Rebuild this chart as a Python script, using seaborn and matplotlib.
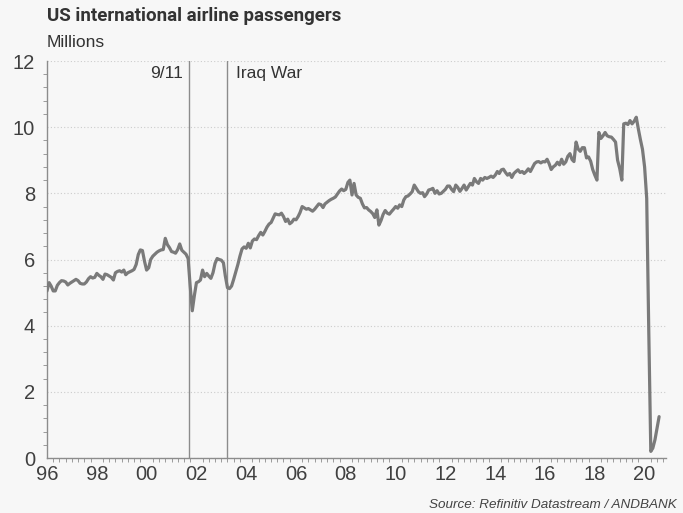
import matplotlib
matplotlib.use("Agg")
import matplotlib.pyplot as plt
import matplotlib.dates as mdates
from matplotlib.ticker import MultipleLocator
import seaborn as sns
import pandas as pd

# Monthly US international airline passengers, millions (Jan 1996 onward)
pax_1996 = [5.05, 5.30, 5.20, 5.05, 5.05, 5.22, 5.30, 5.36, 5.35, 5.32, 5.23, 5.28]
pax_1997 = [5.32, 5.36, 5.40, 5.36, 5.28, 5.26, 5.26, 5.32, 5.42, 5.48, 5.44, 5.46]
pax_1998 = [5.58, 5.52, 5.48, 5.40, 5.56, 5.54, 5.50, 5.46, 5.38, 5.60, 5.64, 5.66]
pax_1999 = [5.62, 5.68, 5.54, 5.60, 5.63, 5.66, 5.70, 5.85, 6.15, 6.29, 6.27, 5.95]
pax_2000 = [5.68, 5.75, 6.00, 6.10, 6.16, 6.22, 6.26, 6.29, 6.30, 6.64, 6.45, 6.36]
pax_2001 = [6.24, 6.22, 6.19, 6.30, 6.47, 6.28, 6.22, 6.16, 6.03, 5.20, 4.45, 4.90]
pax_2002 = [5.30, 5.33, 5.38, 5.68, 5.48, 5.58, 5.50, 5.43, 5.60, 5.88, 6.03, 6.00]
pax_2003 = [5.98, 5.90, 5.50, 5.15, 5.12, 5.20, 5.40, 5.62, 5.85, 6.10, 6.32, 6.38]
pax_2004 = [6.34, 6.49, 6.35, 6.56, 6.62, 6.60, 6.72, 6.82, 6.74, 6.85, 6.98, 7.07]
pax_2005 = [7.12, 7.26, 7.38, 7.36, 7.35, 7.40, 7.30, 7.15, 7.22, 7.08, 7.13, 7.22]
pax_2006 = [7.20, 7.30, 7.42, 7.60, 7.56, 7.52, 7.54, 7.50, 7.46, 7.52, 7.60, 7.68]
pax_2007 = [7.66, 7.57, 7.68, 7.73, 7.78, 7.82, 7.85, 7.89, 7.98, 8.07, 8.13, 8.08]
pax_2008 = [8.12, 8.33, 8.40, 7.95, 8.30, 7.95, 7.88, 7.85, 7.68, 7.56, 7.57, 7.50]
pax_2009 = [7.45, 7.38, 7.27, 7.50, 7.04, 7.18, 7.36, 7.48, 7.40, 7.37, 7.45, 7.52]
pax_2010 = [7.60, 7.55, 7.65, 7.60, 7.80, 7.90, 7.92, 7.98, 8.05, 8.25, 8.15, 8.05]
pax_2011 = [8.00, 8.02, 7.90, 7.98, 8.10, 8.12, 8.15, 8.00, 8.08, 7.98, 8.00, 8.06]
pax_2012 = [8.12, 8.22, 8.22, 8.12, 8.05, 8.25, 8.18, 8.06, 8.15, 8.25, 8.10, 8.20]
pax_2013 = [8.30, 8.25, 8.45, 8.35, 8.30, 8.45, 8.40, 8.48, 8.45, 8.48, 8.52, 8.48]
pax_2014 = [8.55, 8.66, 8.60, 8.71, 8.73, 8.63, 8.55, 8.60, 8.48, 8.60, 8.66, 8.71]
pax_2015 = [8.63, 8.66, 8.60, 8.66, 8.74, 8.66, 8.78, 8.90, 8.95, 8.96, 8.92, 8.96]
pax_2016 = [8.95, 9.03, 8.90, 8.72, 8.80, 8.85, 8.94, 8.86, 9.03, 8.88, 8.95, 9.12]
pax_2017 = [9.20, 9.02, 8.96, 9.55, 9.34, 9.27, 9.38, 9.38, 9.07, 9.10, 8.97, 8.72]
pax_2018 = [8.55, 8.40, 9.84, 9.66, 9.74, 9.84, 9.74, 9.71, 9.70, 9.63, 9.55, 9.00]
pax_2019 = [8.75, 8.40, 10.10, 10.12, 10.08, 10.20, 10.10, 10.18, 10.30, 9.95, 9.62, 9.33]
pax_2020 = [8.80, 7.85, 4.00, 0.20, 0.30, 0.55, 0.90, 1.25]

event_labels = ["9/11", "Iraq War"]
event_dates = ["2001-09-11", "2003-03-20"]

yearly = [pax_1996, pax_1997, pax_1998, pax_1999, pax_2000, pax_2001, pax_2002,
          pax_2003, pax_2004, pax_2005, pax_2006, pax_2007, pax_2008, pax_2009,
          pax_2010, pax_2011, pax_2012, pax_2013, pax_2014, pax_2015, pax_2016,
          pax_2017, pax_2018, pax_2019, pax_2020]
passengers = [v for year in yearly for v in year]
dates = pd.date_range("1996-01-01", periods=len(passengers), freq="MS")
df = pd.DataFrame({"date": dates, "passengers": passengers})

sns.set_theme(style="white")
plt.rcParams["font.family"] = ["Liberation Sans", "DejaVu Sans"]

BG = "#f7f7f7"
TEXT = "#333333"
fig = plt.figure(figsize=(6.83, 5.13), dpi=100, facecolor=BG)
ax = fig.add_axes([47 / 683, 55 / 513, 619 / 683, 397 / 513])
ax.set_facecolor(BG)

sns.lineplot(data=df, x="date", y="passengers", ax=ax, color="#7a7a7a",
             linewidth=2.3, solid_joinstyle="round", zorder=3)

# event markers
for label, d in zip(event_labels, event_dates):
    d = pd.Timestamp(d)
    ax.axvline(d, color="#8c8c8c", linewidth=1.0, zorder=2)
    if label == "9/11":
        ax.annotate(label, xy=(d, 1), xycoords=("data", "axes fraction"),
                    xytext=(-4, -9), textcoords="offset points",
                    ha="right", va="center", fontsize=12.5, color=TEXT)
    else:
        ax.annotate(label, xy=(d, 1), xycoords=("data", "axes fraction"),
                    xytext=(7, -9), textcoords="offset points",
                    ha="left", va="center", fontsize=12.5, color=TEXT)

ax.set_xlim(pd.Timestamp("1996-01-01"), pd.Timestamp("2020-11-10"))
ax.set_ylim(0, 12)

ax.yaxis.set_major_locator(MultipleLocator(2))
ax.yaxis.set_minor_locator(MultipleLocator(0.4))
ax.xaxis.set_major_locator(mdates.YearLocator(2))
ax.xaxis.set_minor_locator(mdates.MonthLocator(bymonth=[1, 4, 7, 10]))
ax.xaxis.set_major_formatter(mdates.DateFormatter("%y"))

ax.grid(axis="y", which="major", color="#cccccc", linestyle=(0, (1, 2)), linewidth=0.8)
ax.set_axisbelow(True)

for side in ("top", "right"):
    ax.spines[side].set_visible(False)
for side in ("left", "bottom"):
    ax.spines[side].set_color("#8c8c8c")
    ax.spines[side].set_linewidth(1.0)

ax.tick_params(axis="both", which="major", direction="out", colors="#8c8c8c",
               labelcolor="#404040", labelsize=14.5, width=0.8)
ax.tick_params(axis="y", which="major", length=5, pad=3.5)
ax.tick_params(axis="y", which="minor", length=3, left=True, color="#8c8c8c", width=0.6)
ax.tick_params(axis="x", which="major", length=4, pad=1)
ax.tick_params(axis="x", which="minor", length=3, bottom=True, color="#8c8c8c", width=0.6)
ax.set_xlabel("")
ax.set_ylabel("")

fig.text(47 / 683, 1 - 16 / 513, "US international airline passengers",
         fontsize=13.5, fontweight="bold", color=TEXT, ha="left", va="center",
         family=["Roboto", "Liberation Sans", "DejaVu Sans"])
fig.text(47 / 683, 1 - 43 / 513, "Millions", fontsize=12.5, color=TEXT,
         ha="left", va="center")
fig.text(677 / 683, 1 - 505 / 513, "Source: Refinitiv Datastream / ANDBANK",
         fontsize=9.7, style="italic", color="#444444", ha="right", va="center")

fig.savefig("out.png", dpi=100, facecolor=BG)
